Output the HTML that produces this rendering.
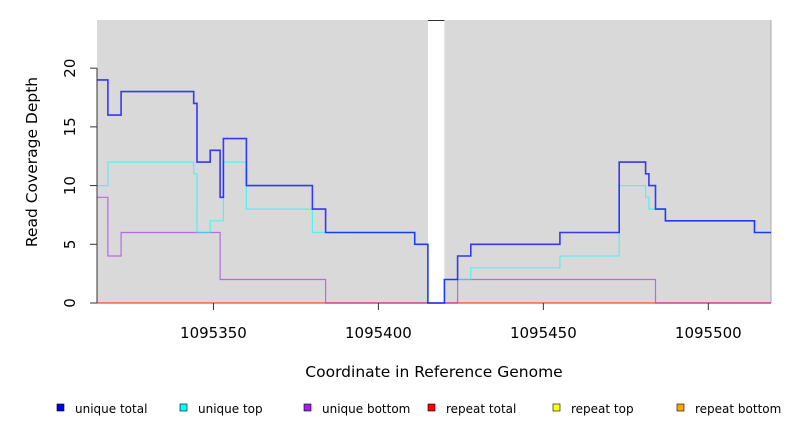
<!DOCTYPE html>
<html><head><meta charset="utf-8"><style>
body{margin:0;background:#fff;}
svg{display:block;font-family:"DejaVu Sans","Liberation Sans",sans-serif;}
</style></head><body>
<svg id="chart" width="792" height="432">
<g id="plot"></g>
</svg>
<script>
const seriesNames=["unique total","unique top","unique bottom","repeat total","repeat top","repeat bottom"];
const seriesColors=["#0000ff","#00ffff","#a020f0","#ff0000","#ffff00","#ffa500"];
const totalX=[1095314.7,1095318,1095322,1095344,1095345,1095349,1095352,1095353,1095360,1095380,1095384,1095411,1095415,1095420,1095424,1095428,1095455,1095473,1095481,1095482,1095484,1095487,1095514,1095519];
const totalY=[19,16,18,17,12,13,9,14,10,8,6,5,0,2,4,5,6,12,11,10,8,7,6,6];
const topX=[1095314.7,1095318,1095344,1095345,1095349,1095353,1095360,1095380,1095411,1095415,1095420,1095428,1095455,1095473,1095481,1095482,1095487,1095514,1095519];
const topY=[10,12,11,6,7,12,8,6,5,0,2,3,4,10,9,8,7,6,6];
const botX=[1095314.7,1095318,1095322,1095352,1095384,1095424,1095484,1095519];
const botY=[9,4,6,2,0,2,0,0];
const xTicks=[1095350,1095400,1095450,1095500];
const yTicks=[0,5,10,15,20];
const gapStart=1095415, gapEnd=1095420;
const xMin=1095314.7,xMax=1095519,yMax=24.1;
const L=97,R=771,T=20,B=303;
const sx=v=>L+(v-xMin)/(xMax-xMin)*(R-L);
const sy=v=>B-v/yMax*(B-T);
const NS="http://www.w3.org/2000/svg";
const svg=document.getElementById('chart');
const g=document.getElementById('plot');
function mk(tag,attrs,parent){const e=document.createElementNS(NS,tag);for(const k in attrs)e.setAttribute(k,attrs[k]);(parent||svg).appendChild(e);return e;}
let e;
e=mk('rect',{x:L,y:T,width:sx(gapStart)-L,height:B-T,fill:'#d9d9d9'},g);


e=mk('rect',{x:sx(gapEnd),y:T,width:R-sx(gapEnd),height:B-T,fill:'#d9d9d9'},g);


e=mk('line',{x1:sx(gapStart),x2:sx(gapEnd),y1:T+0.5,y2:T+0.5,stroke:'#333','stroke-width':1},g);


e=mk('line',{x1:R,x2:R,y1:T,y2:B,stroke:'#aaa','stroke-width':1},g);


function step(xs,ys){let d='';for(let i=0;i<xs.length-1;i++){d+=(i?'L':'M')+sx(xs[i]).toFixed(1)+' '+sy(ys[i]).toFixed(1)+' L'+sx(xs[i+1]).toFixed(1)+' '+sy(ys[i]).toFixed(1)+' ';}return d;}
const zeroX=[xMin,xMax],zeroY=[0,0];
[[zeroX,zeroY,5,'repeat-bottom-line'],[zeroX,zeroY,3,'repeat-total-line'],[botX,botY,2,'unique-bottom-line'],[topX,topY,1,'unique-top-line'],[totalX,totalY,0,'unique-total-line']].forEach(s=>{
 const p=mk('path',{d:step(s[0],s[1]),fill:'none',stroke:seriesColors[s[2]],'stroke-width':s[2]==0?1.6:1.2,'stroke-opacity':s[2]==0?0.75:0.6},g);
 
 
});
e=mk('line',{x1:L,x2:L,y1:sy(20),y2:B,stroke:'#333','stroke-width':1});


yTicks.forEach(v=>{
 const t=mk('line',{x1:L-7,x2:L,y1:sy(v),y2:sy(v),stroke:'#333'});
 
 
 const tx=mk('text',{x:75,y:sy(v),'font-size':15,'text-anchor':'middle',transform:`rotate(-90 75 ${sy(v)})`,fill:'#000'});
 tx.textContent=v;
 
 
});
xTicks.forEach(v=>{
 const t=mk('line',{x1:sx(v),x2:sx(v),y1:B,y2:B+7,stroke:'#333'});
 
 
 const tx=mk('text',{x:sx(v),y:338,'font-size':15,'text-anchor':'middle',fill:'#000'});
 tx.textContent=v;
 
 
});
e=mk('text',{x:434,y:377,'font-size':15.5,'text-anchor':'middle',fill:'#000'});
e.textContent='Coordinate in Reference Genome';


e=mk('text',{x:37,y:162,'font-size':15.5,'text-anchor':'middle',transform:'rotate(-90 37 162)',fill:'#000'});
e.textContent='Read Coverage Depth';


const legX=[57,180,304,428,553,677];
seriesNames.forEach((n,i)=>{
 const r=mk('rect',{x:legX[i],y:404,width:7,height:7,fill:seriesColors[i],stroke:'#000','stroke-width':0.6});
 
 
 const t=mk('text',{x:legX[i]+18,y:413,'font-size':12,fill:'#000'});
 t.textContent=n;
 
 
});
</script>
</body></html>
